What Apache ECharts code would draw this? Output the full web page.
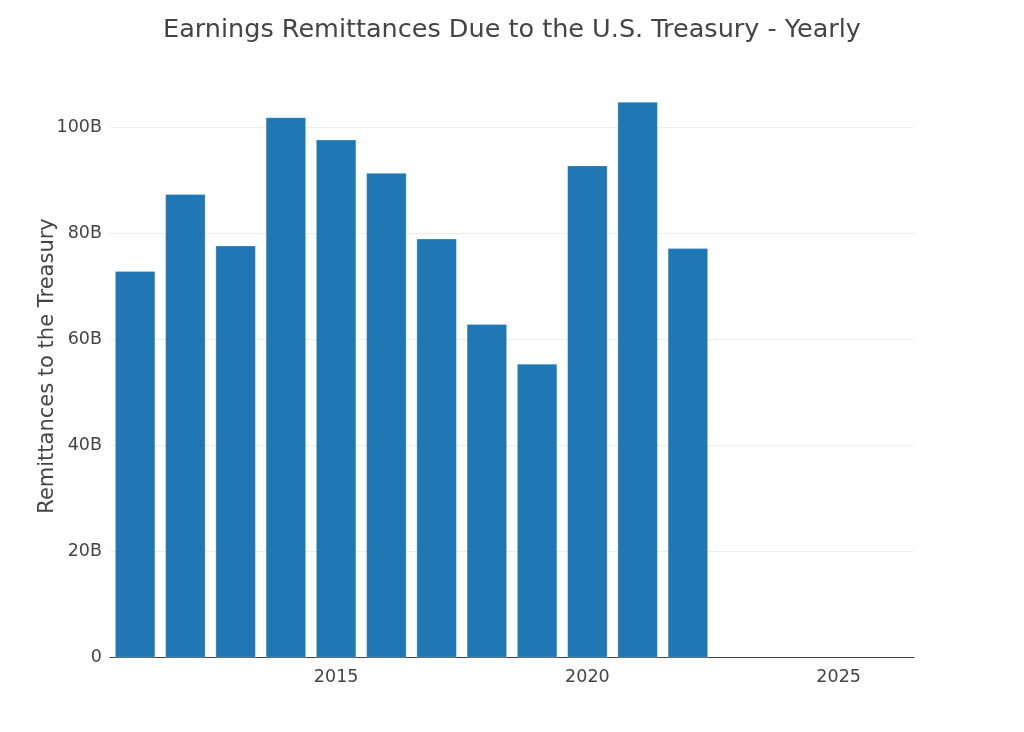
<!DOCTYPE html>
<html>
<head>
<meta charset="utf-8">
<script src="https://cdn.jsdelivr.net/npm/echarts@6/dist/echarts.min.js"></script>
<style>
    html, body { margin: 0; padding: 0; background: #fff; }
    #chart0 { width: 1024px; height: 732px; }
</style>
</head>
<body>
<div id="chart0"></div>
<script>
// data (billions of dollars)
var years = [2011, 2012, 2013, 2014, 2015, 2016, 2017, 2018, 2019, 2020, 2021, 2022];
var remittances = [72.9, 87.4, 77.7, 101.9, 97.7, 91.4, 79.0, 62.9, 55.4, 92.8, 104.8, 77.2];
var xTicks = [2015, 2020, 2025];

var font = '"DejaVu Sans", Verdana, sans-serif';

var barData = [];
for (var i = 0; i < years.length; i++) {
    barData.push([years[i], remittances[i]]);
}

var option0 = {
    animation: false,
    title: {
        text: 'Earnings Remittances Due to the U.S. Treasury - Yearly',
        left: 'center',
        top: 12,
        textStyle: {
            fontFamily: font,
            fontSize: 25.5,
            fontWeight: 'normal',
            color: '#444'
        }
    },
    grid: {
        left: 110,
        right: 110,
        top: 74.5,
        bottom: 74.5
    },
    xAxis: {
        type: 'value',
        min: 2010.5,
        max: 2026.5,
        axisLine: {show: true, lineStyle: {color: '#444', width: 1}},
        axisTick: {show: false},
        splitLine: {show: false},
        axisLabel: {
            customValues: xTicks,
            color: '#444',
            fontFamily: font,
            fontSize: 17.5,
            margin: 11,
            formatter: function (v) {
                return String(v);
            }
        }
    },
    yAxis: {
        type: 'value',
        min: 0,
        max: 110,
        interval: 20,
        name: 'Remittances to the Treasury',
        nameLocation: 'middle',
        nameGap: 52,
        nameMoveOverlap: false,
        nameTextStyle: {
            fontFamily: font,
            fontSize: 21,
            color: '#444'
        },
        axisLine: {show: false},
        axisTick: {show: false},
        splitLine: {show: true, showMaxLine: false, lineStyle: {color: '#eee', width: 1}},
        axisLabel: {
            showMaxLabel: false,
            color: '#444',
            fontFamily: font,
            fontSize: 17.5,
            margin: 8,
            formatter: function (v) {
                return v === 0 ? '0' : v + 'B';
            }
        }
    },
    series: [
        {
            name: 'Remittances',
            type: 'bar',
            barWidth: 40,
            data: barData,
            itemStyle: {
                color: '#1f77b4',
                borderColor: 'rgba(255,255,255,0.5)',
                borderWidth: 0.5
            }
        }
    ]
};

var myChart0 = echarts.init(document.getElementById('chart0'));
myChart0.setOption(option0);
</script>
</body>
</html>
